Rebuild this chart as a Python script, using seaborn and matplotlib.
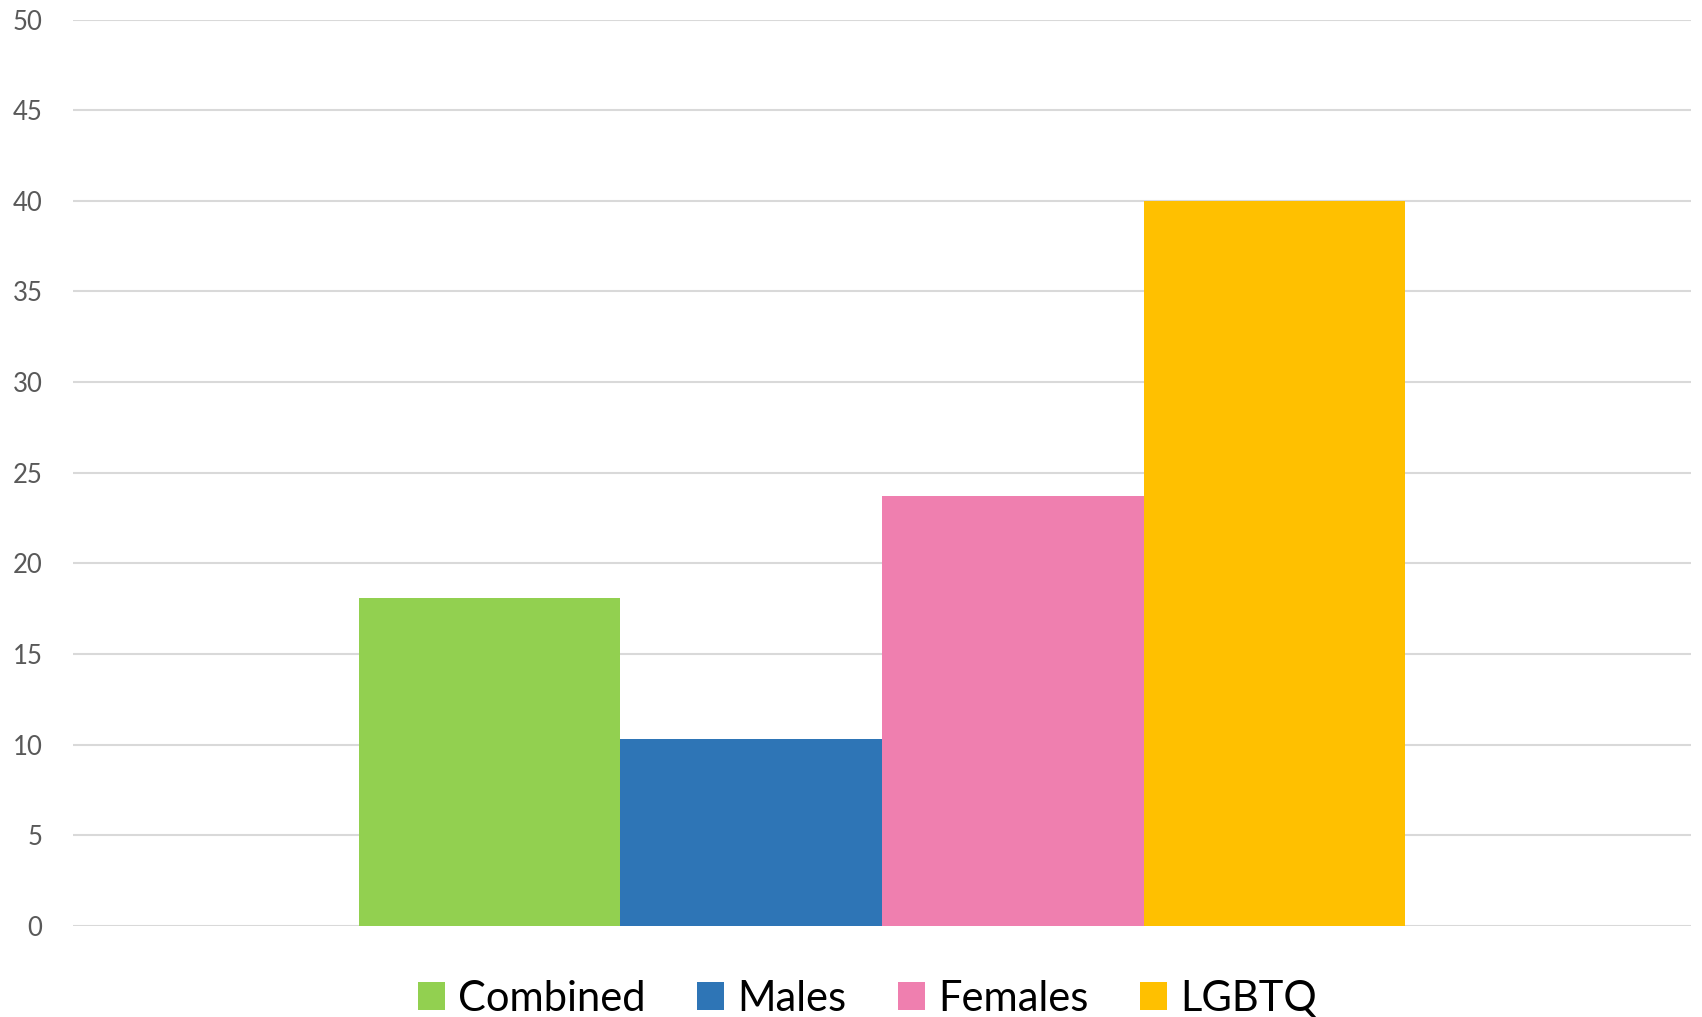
import matplotlib
matplotlib.use("Agg")
import matplotlib.pyplot as plt
import pandas as pd
import seaborn as sns

GROUPS = ["Combined", "Males", "Females", "LGBTQ"]
VALUES = [18.1, 10.3, 23.7, 40.0]
COLORS = ["#92D050", "#2E75B6", "#EF7FAF", "#FFC000"]
Y_TICKS = list(range(0, 55, 5))

sns.set_theme(style="white")
plt.rcParams["font.family"] = ["Lato", "DejaVu Sans"]

df = pd.DataFrame({"cat": [""] * len(GROUPS), "group": GROUPS, "value": VALUES})

fig = plt.figure(figsize=(17.02, 10.17), dpi=100)
ax = fig.add_axes([0.0429, 0.0895, 0.9506, 0.8913])

sns.barplot(data=df, x="cat", y="value", hue="group", hue_order=GROUPS,
            palette=COLORS, saturation=1, width=0.647, linewidth=0, ax=ax)

ax.set_ylim(0, 50)
ax.set_xlim(-0.5, 0.5)
ax.set_yticks(Y_TICKS)
ax.set_xticks([])
ax.set_xlabel("")
ax.set_ylabel("")
ax.yaxis.grid(True, color="#D9D9D9", linewidth=1.5)
ax.set_axisbelow(True)
for s in ax.spines.values():
    s.set_visible(False)
ax.tick_params(axis="y", length=0, pad=22, labelsize=18.5, labelcolor="#595959")

handles, labels = ax.get_legend_handles_labels()
ax.get_legend().remove()
fig.legend(handles, labels, loc="center", bbox_to_anchor=(0.5096, 0.018), ncol=4,
           frameon=False, fontsize=30, handlelength=0.65, handleheight=0.65,
           handletextpad=0.3, columnspacing=1.25, labelcolor="black")

fig.savefig("out.png", dpi=100)
